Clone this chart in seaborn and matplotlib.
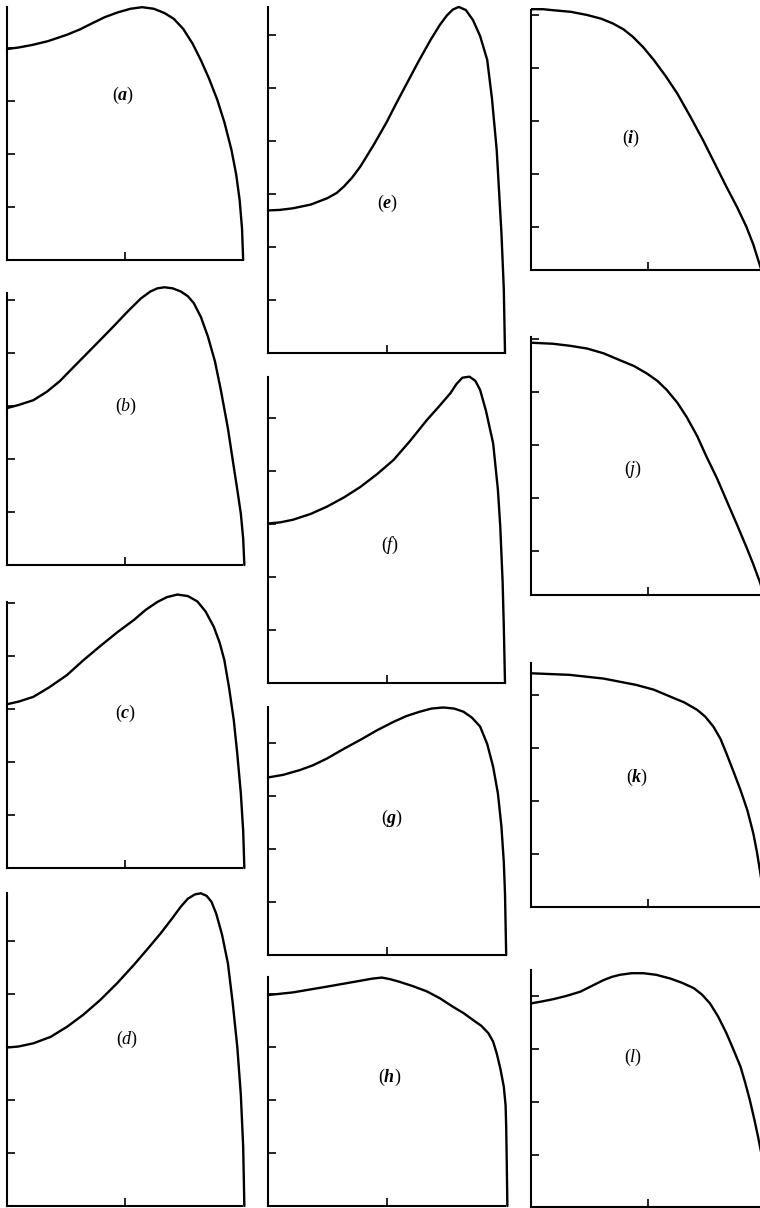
import matplotlib
matplotlib.use("Agg")
import matplotlib.pyplot as plt
import seaborn as sns

sns.set_theme(style="white")
plt.rcParams["mathtext.fontset"] = "custom"
plt.rcParams["mathtext.rm"] = "Liberation Serif"
plt.rcParams["mathtext.it"] = "Liberation Serif:italic"
plt.rcParams["mathtext.bf"] = "Liberation Serif:italic:bold"

# ---- profile data: x across the section (0..2), y in tick units ----
a_x = [0, 0.1, 0.22, 0.35, 0.51, 0.62, 0.71, 0.83, 0.94, 1.05, 1.15, 1.25, 1.34, 1.42,
       1.50, 1.58, 1.65, 1.72, 1.79, 1.85, 1.91, 1.95, 1.98, 2.0, 2.01]
a_y = [3.98, 4.01, 4.06, 4.13, 4.25, 4.35, 4.45, 4.58, 4.67, 4.74, 4.77, 4.74, 4.66, 4.55,
       4.36, 4.08, 3.77, 3.42, 3.02, 2.60, 2.08, 1.62, 1.13, 0.6, 0]

b_x = [0, 0.1, 0.225, 0.34, 0.45, 0.56, 0.68, 0.8, 0.91, 1.03, 1.14, 1.22, 1.28, 1.34,
       1.41, 1.48, 1.54, 1.59, 1.65, 1.71, 1.77, 1.82, 1.88, 1.93, 1.96, 1.99, 2.01, 2.02]
b_y = [2.96, 3.02, 3.11, 3.27, 3.47, 3.72, 3.99, 4.26, 4.51, 4.79, 5.03, 5.16, 5.22, 5.24,
       5.22, 5.16, 5.07, 4.94, 4.68, 4.31, 3.84, 3.30, 2.58, 1.85, 1.42, 0.97, 0.5, 0]

c_x = [0, 0.1, 0.225, 0.36, 0.51, 0.65, 0.795, 0.94, 1.08, 1.18, 1.28, 1.36, 1.45, 1.54,
       1.62, 1.69, 1.76, 1.81, 1.85, 1.89, 1.93, 1.96, 1.99, 2.01, 2.02]
c_y = [3.09, 3.14, 3.23, 3.41, 3.64, 3.92, 4.19, 4.45, 4.68, 4.87, 5.02, 5.11, 5.16, 5.13,
       5.03, 4.84, 4.55, 4.25, 3.92, 3.40, 2.79, 2.15, 1.41, 0.7, 0]

d_x = [0, 0.1, 0.225, 0.37, 0.51, 0.65, 0.795, 0.94, 1.08, 1.2, 1.31, 1.4, 1.48, 1.54,
       1.6, 1.65, 1.7, 1.74, 1.78, 1.83, 1.88, 1.92, 1.96, 1.99, 2.01, 2.02]
d_y = [2.99, 3.01, 3.07, 3.19, 3.38, 3.61, 3.89, 4.21, 4.55, 4.86, 5.15, 5.41, 5.65, 5.80,
       5.88, 5.90, 5.85, 5.74, 5.52, 5.12, 4.58, 3.85, 3.0, 2.1, 1.12, 0]

e_x = [0, 0.1, 0.21, 0.36, 0.50, 0.58, 0.64, 0.71, 0.78, 0.89, 1.0, 1.08, 1.17, 1.27,
       1.37, 1.45, 1.51, 1.56, 1.61, 1.67, 1.73, 1.79, 1.85, 1.89, 1.93, 1.97, 1.99, 2.0]
e_y = [2.69, 2.70, 2.73, 2.80, 2.92, 3.02, 3.14, 3.31, 3.52, 3.92, 4.35, 4.70, 5.08, 5.50,
       5.90, 6.19, 6.37, 6.48, 6.53, 6.47, 6.28, 5.98, 5.53, 4.80, 3.83, 2.26, 1.2, 0]

f_x = [0, 0.1, 0.21, 0.36, 0.50, 0.64, 0.78, 0.92, 1.06, 1.2, 1.34, 1.44, 1.54, 1.59,
       1.64, 1.70, 1.75, 1.79, 1.84, 1.90, 1.94, 1.96, 1.98, 1.99, 2.0]
f_y = [3.01, 3.03, 3.08, 3.19, 3.33, 3.50, 3.70, 3.94, 4.21, 4.57, 4.96, 5.21, 5.47, 5.64,
       5.76, 5.78, 5.70, 5.53, 5.13, 4.52, 3.65, 2.95, 1.9, 1.06, 0]

g_x = [0, 0.13, 0.27, 0.38, 0.50, 0.64, 0.78, 0.92, 1.06, 1.17, 1.28, 1.38, 1.48, 1.57,
       1.65, 1.72, 1.79, 1.85, 1.90, 1.94, 1.97, 1.99, 2.0, 2.01]
g_y = [3.35, 3.40, 3.49, 3.58, 3.71, 3.89, 4.06, 4.24, 4.40, 4.51, 4.59, 4.65, 4.67, 4.65,
       4.59, 4.48, 4.31, 3.98, 3.55, 3.05, 2.42, 1.75, 1.16, 0]

h_x = [0, 0.21, 0.50, 0.78, 0.88, 0.96, 1.03, 1.11, 1.22, 1.34, 1.45, 1.56, 1.65, 1.73,
       1.80, 1.86, 1.90, 1.93, 1.96, 1.99, 2.005, 2.01, 2.015, 2.02]
h_y = [3.98, 4.03, 4.14, 4.25, 4.29, 4.31, 4.28, 4.23, 4.15, 4.05, 3.92, 3.76, 3.64, 3.51,
       3.40, 3.26, 3.10, 2.88, 2.60, 2.25, 1.90, 1.50, 0.8, 0]

i_x = [0, 0.1, 0.19, 0.34, 0.48, 0.6, 0.70, 0.79, 0.87, 0.96, 1.05, 1.15, 1.25, 1.36,
       1.47, 1.57, 1.67, 1.76, 1.84, 1.90, 1.96, 2.0]
i_y = [5.11, 5.11, 5.09, 5.06, 5.0, 4.93, 4.84, 4.73, 4.59, 4.39, 4.15, 3.85, 3.52, 3.09,
       2.64, 2.20, 1.76, 1.38, 1.01, 0.67, 0.25, 0.0]

j_x = [0, 0.19, 0.34, 0.48, 0.62, 0.76, 0.88, 0.99, 1.08, 1.16, 1.25, 1.33, 1.42, 1.50,
       1.59, 1.67, 1.76, 1.84, 1.90, 1.96, 2.0]
j_y = [4.93, 4.91, 4.87, 4.82, 4.73, 4.60, 4.49, 4.35, 4.21, 4.04, 3.80, 3.53, 3.17, 2.78,
       2.37, 1.96, 1.50, 1.08, 0.75, 0.39, 0.1]

k_x = [0, 0.33, 0.62, 0.9, 1.05, 1.19, 1.31, 1.42, 1.49, 1.56, 1.62, 1.67, 1.73, 1.79,
       1.85, 1.90, 1.93, 1.96, 1.99]
k_y = [4.41, 4.38, 4.31, 4.19, 4.10, 3.97, 3.86, 3.72, 3.59, 3.40, 3.17, 2.90, 2.56, 2.21,
       1.82, 1.39, 1.05, 0.64, 0.2]

l_x = [0, 0.1, 0.19, 0.3, 0.42, 0.52, 0.62, 0.69, 0.76, 0.86, 0.96, 1.07, 1.19, 1.29,
       1.39, 1.46, 1.53, 1.60, 1.67, 1.73, 1.79, 1.83, 1.87, 1.91, 1.94, 1.98]
l_y = [3.86, 3.90, 3.94, 4.00, 4.08, 4.19, 4.30, 4.36, 4.40, 4.43, 4.43, 4.40, 4.33, 4.25,
       4.15, 4.03, 3.86, 3.61, 3.30, 2.99, 2.67, 2.37, 2.04, 1.66, 1.35, 0.9]

labels = ["a", "b", "c", "d", "e", "f", "g", "h", "i", "j", "k", "l"]
bold_labels = ["a", "c", "e", "g", "h", "i", "k"]
curves = {
    "a": (a_x, a_y), "b": (b_x, b_y), "c": (c_x, c_y), "d": (d_x, d_y),
    "e": (e_x, e_y), "f": (f_x, f_y), "g": (g_x, g_y), "h": (h_x, h_y),
    "i": (i_x, i_y), "j": (j_x, j_y), "k": (k_x, k_y), "l": (l_x, l_y),
}
label_pos = {
    "a": (0.99, 3.11), "b": (1.01, 3.0), "c": (1.01, 2.91), "d": (1.02, 3.15),
    "e": (1.01, 2.83), "f": (1.03, 2.60), "g": (1.05, 2.57), "h": (1.03, 2.43),
    "i": (0.86, 2.68), "j": (0.87, 2.53), "k": (0.91, 2.45), "l": (0.87, 2.85),
}

# ---- layout (pixels) ----
W_PX, H_PX = 760, 1208
UNIT = 53.0  # pixels per y tick step
columns = {"left": (7, 235), "mid": (268, 237), "right": (531, 234)}
# panel: column, baseline pixel (y=0), y min, spine top, y-limit top
panels = {
    "a": ("left", 260, 0.0, 4.78, 4.80),
    "b": ("left", 565, 0.0, 5.13, 5.26),
    "c": ("left", 868, 0.0, 5.02, 5.18),
    "d": ("left", 1206, 0.0, 5.90, 5.92),
    "e": ("mid", 353, 0.0, 6.53, 6.55),
    "f": ("mid", 683, 0.0, 5.77, 5.80),
    "g": ("mid", 955, 0.0, 4.68, 4.70),
    "h": ("mid", 1206, 0.0, 4.32, 4.34),
    "i": ("right", 280, 0.19, 5.09, 5.13),
    "j": ("right", 604, 0.17, 5.04, 5.06),
    "k": ("right", 907, 0.0, 4.60, 4.62),
    "l": ("right", 1208, 0.02, 4.49, 4.51),
}

fig = plt.figure(figsize=(W_PX / 100, H_PX / 100), dpi=100)
fig.patch.set_facecolor("white")

for key in labels:
    col, base, ymin, ytop, ylim_top = panels[key]
    left, width = columns[col]
    bottom_px = base - ymin * UNIT
    height_px = (ylim_top - ymin) * UNIT
    ax = fig.add_axes([left / W_PX, 1 - bottom_px / H_PX, width / W_PX, height_px / H_PX])
    xs, ys = curves[key]
    sns.lineplot(x=xs, y=ys, sort=False, estimator=None, color="black",
                 linewidth=1.7, ax=ax)
    for ln in ax.lines:
        ln.set_clip_on(key in ("i", "j"))
        ln.set_solid_joinstyle("round")
    ax.set_xlim(0, 2.0)
    ax.set_ylim(ymin, ylim_top)
    ax.set_facecolor("none")
    for s in ("top", "right"):
        ax.spines[s].set_visible(False)
    for s in ("left", "bottom"):
        ax.spines[s].set_color("black")
        ax.spines[s].set_linewidth(1.5)
    ax.spines["left"].set_bounds(ymin, ytop)
    ax.spines["bottom"].set_bounds(0, 2.0)
    yt = [v for v in range(1, 8) if v <= ytop - 0.02]
    ax.set_yticks(yt)
    ax.set_xticks([1.0])
    ax.tick_params(direction="in", length=6, width=1.2, color="black",
                   labelleft=False, labelbottom=False, left=True, bottom=True)
    ax.set_xlabel("")
    ax.set_ylabel("")
    lx, ly = label_pos[key]
    style = r"\mathbf" if key in bold_labels else r"\mathit"
    ax.text(lx, ly, rf"$(" + style + "{" + key + "})$", ha="center", va="center",
            fontsize=13, color="black")

fig.savefig("out.png", dpi=100, facecolor="white")
